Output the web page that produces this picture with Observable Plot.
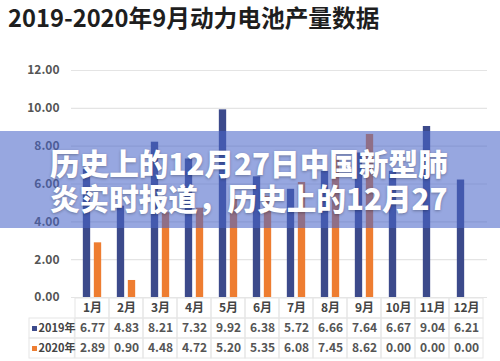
<!DOCTYPE html>
<html>
<head>
<meta charset="utf-8">
<script src="https://cdn.jsdelivr.net/npm/d3@7"></script>
<script src="https://cdn.jsdelivr.net/npm/@observablehq/plot@0.6"></script>
<style>
  html, body { margin: 0; padding: 0; background: #fff; }
  #wrap { position: relative; width: 500px; height: 361px; overflow: hidden; background: #fff;
          font-family: "Noto Sans CJK SC", "Noto Sans", sans-serif; }
  #title { position: absolute; left: 8px; top: 2px; height: 30px; line-height: 30px; font-size: 23.7px;
           font-weight: 700; color: #1e1e1e; white-space: nowrap; }
  #main { position: absolute; left: 0; top: 36px; }
  #table { position: absolute; left: 0; top: 297px; }
  #overlay { position: absolute; left: 0; top: 131px; width: 500px; height: 97px;
             background: rgba(72, 100, 200, 0.57); }
  #overlay div { position: absolute; left: 50px; color: #fff; font-size: 29.6px; font-weight: 900;
                 white-space: nowrap; line-height: 34px; text-shadow: 0 1px 3px rgba(0,0,0,0.3); }
</style>
</head>
<body>
<div id="wrap">
  <div id="title">2019-2020年9月动力电池产量数据</div>
  <div id="main"></div>
  <div id="table"></div>
  <div id="overlay">
    <div style="top:15px">历史上的12月27日中国新型肺</div>
    <div style="top:50px">炎实时报道，历史上的12月27</div>
  </div>
</div>
<script>
const months = ["1月","2月","3月","4月","5月","6月","7月","8月","9月","10月","11月","12月"];
const values2019 = [6.77, 4.83, 8.21, 7.32, 9.92, 6.38, 5.72, 6.66, 7.64, 6.67, 9.04, 6.21];
const values2020 = [2.89, 0.90, 4.48, 4.72, 5.20, 5.35, 6.08, 7.45, 8.62, 0.00, 0.00, 0.00];
const seriesNames = ["2019年", "2020年"];
const seriesColors = ["#3c4a8b", "#ee7d31"];
const yTicks = [0, 2, 4, 6, 8, 10, 12];

const W = 500, ML = 71, MR = 13;
const step = (W - ML - MR) / months.length;

const bars2019 = months.map((m, i) => ({month: m, value: values2019[i]}));
const bars2020 = months.map((m, i) => ({month: m, value: values2020[i]}));

// main SVG placed at top 36: y=12 -> 70, y=0 -> 297 (absolute)
const main = Plot.plot({
  width: W, height: 275,
  marginTop: 34, marginBottom: 14, marginLeft: ML, marginRight: MR,
  style: {fontFamily: "'Noto Sans CJK SC', sans-serif", color: "#555", background: "transparent"},
  x: {domain: months, padding: 0, axis: null},
  y: {domain: [0, 12], label: null},
  marks: [
    Plot.gridY(yTicks, {stroke: "#e4e4e4", strokeOpacity: 1, strokeWidth: 1.2}),
    Plot.axisY(yTicks, {tickSize: 0, tickPadding: 12, tickFormat: d => d.toFixed(2), label: null,
                        fontSize: 12, fontWeight: 600, fill: "#555"}),
    Plot.barY(bars2019, {x: "month", y: "value", fill: seriesColors[0],
                         insetLeft: step / 2 - 9.5, insetRight: step / 2 + 1.5}),
    Plot.barY(bars2020, {x: "month", y: "value", fill: seriesColors[1],
                         insetLeft: step / 2 + 1.5, insetRight: step / 2 - 9.5})
  ]
});
document.getElementById("main").appendChild(main);

const rows = ["head", ...seriesNames];
const cells = [];
months.forEach((m, i) => {
  cells.push({month: m, row: "head", text: m, bold: true});
  cells.push({month: m, row: seriesNames[0], text: values2019[i].toFixed(2), bold: false});
  cells.push({month: m, row: seriesNames[1], text: values2020[i].toFixed(2), bold: false});
});
const legendRows = seriesNames.map((s, i) => ({name: s, color: seriesColors[i]}));

const table = Plot.plot({
  width: W, height: 64,
  marginTop: 0, marginBottom: 3, marginLeft: ML, marginRight: MR,
  style: {fontFamily: "'Noto Sans CJK SC', sans-serif", background: "transparent"},
  x: {domain: months, padding: 0, axis: null},
  y: {domain: rows, padding: 0, axis: null},
  marks: [
    Plot.cell(cells, {x: "month", y: "row", fill: "none", stroke: "#e6e6e6", strokeWidth: 1}),
    Plot.cell(legendRows, {x: () => months[0], y: "name", fill: "none", stroke: "#e6e6e6",
                           dx: -step, insetLeft: -(ML - 25 - step)}),
    Plot.text(cells.filter(d => d.bold), {x: "month", y: "row", text: "text", fontSize: 12,
                                          fontWeight: 700, fill: "#444"}),
    Plot.text(cells.filter(d => !d.bold), {x: "month", y: "row", text: "text", fontSize: 12,
                                           fontWeight: 600, fill: "#555"}),
    Plot.dot(legendRows, {x: () => months[0], y: "name", dx: -58, symbol: "square", r: 2.8,
                          fill: "color", stroke: "none"}),
    Plot.text(legendRows, {x: () => months[0], y: "name", dx: -54, text: "name", textAnchor: "start",
                           fontSize: 11, fontWeight: 700, fill: "#444"})
  ],
  color: {type: "identity"}
});
document.getElementById("table").appendChild(table);
</script>
</body>
</html>
